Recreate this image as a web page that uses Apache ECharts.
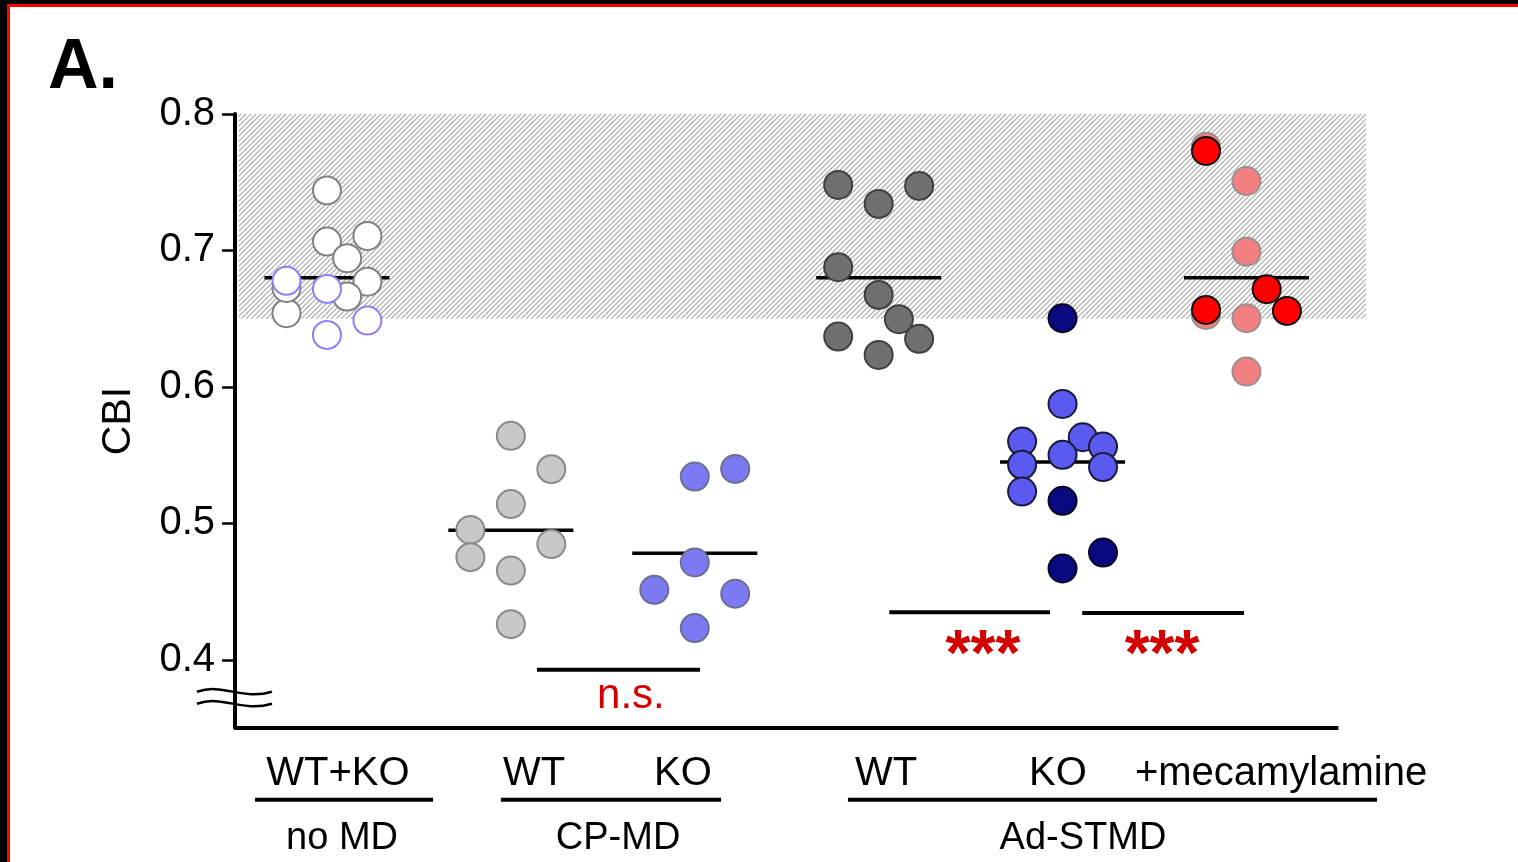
<!DOCTYPE html>
<html><head><meta charset="utf-8">
<script src="https://cdn.jsdelivr.net/npm/echarts@6/dist/echarts.min.js"></script>
<style>
html,body{margin:0;padding:0;background:#fff;overflow:hidden}
#c{position:absolute;left:0;top:0;width:1518px;height:862px;background:#fff}
.f{position:absolute;z-index:5}
</style>
</head><body>
<div id="c"></div>
<div class="f" style="left:0;top:0;width:1518px;height:4px;background:#000"></div>
<div class="f" style="left:0;top:4px;width:1518px;height:3px;background:#f00"></div>
<div class="f" style="left:0;top:0;width:7px;height:862px;background:#000"></div>
<div class="f" style="left:7px;top:4px;width:3px;height:858px;background:#f00"></div>
<script>
// ---------- data ----------
const groupCenters = [0.5, 1.5, 2.5, 3.5, 4.5, 5.5];
const groupMeans   = [0.68, 0.495, 0.478, 0.68, 0.545, 0.68];
const yTicks = [0.4, 0.5, 0.6, 0.7, 0.8];

const noMdWtOff = [0, 0, 0.22, 0.11, 0.22, 0.11, -0.22, -0.22];
const noMdWtVal = [0.744, 0.7065, 0.7106, 0.6943, 0.6771, 0.6662, 0.654, 0.6725];
const noMdKoOff = [-0.22, 0, 0.22, 0];
const noMdKoVal = [0.6777, 0.6718, 0.6486, 0.6381];

const cpWtOff = [0, 0.22, 0, -0.22, -0.22, 0.22, 0, 0];
const cpWtVal = [0.5641, 0.5397, 0.5141, 0.4952, 0.4752, 0.4848, 0.4654, 0.4261];
const cpKoOff = [0, 0.22, 0, -0.22, 0.22, 0];
const cpKoVal = [0.5343, 0.5399, 0.4713, 0.4513, 0.4484, 0.4232];

const adWtOff = [-0.22, 0.22, 0, -0.22, 0, 0.11, -0.22, 0.22, 0];
const adWtVal = [0.748, 0.7473, 0.7341, 0.6877, 0.6674, 0.6496, 0.6369, 0.6352, 0.6234];
const adKoOff = [0, -0.22, 0.11, 0, 0.22, -0.22, 0.22, -0.22];
const adKoVal = [0.5875, 0.5599, 0.5631, 0.5502, 0.5563, 0.5429, 0.5412, 0.5233];
const adKoDarkOff = [0, 0, 0.22, 0];
const adKoDarkVal = [0.6503, 0.5165, 0.4786, 0.4669];

const mecaPinkOff = [-0.22, 0, 0, -0.22, 0, 0];
const mecaPinkVal = [0.776, 0.7509, 0.6991, 0.6527, 0.6503, 0.6112];
const mecaRedOff = [-0.22, 0.11, -0.22, 0.22];
const mecaRedVal = [0.7729, 0.6716, 0.6564, 0.6557];

const normalBand = [0.65, 0.8];

const sigLines = [[1.642, 2.529, 0.3927], [3.558, 4.432, 0.4349], [4.607, 5.487, 0.4342]];
const sigTexts = ['n.s.', '***', '***'];
const sigTextX = [2.153, 4.067, 5.041];
const sigTextY = [0.3735, 0.4015, 0.4015];

const subLabels = ['WT+KO', 'WT', 'KO', 'WT', 'KO', '+mecamylamine'];
const subLabelX = [0.56, 1.626, 2.436, 3.54, 4.475, 5.688];
const groupLabels = ['no MD', 'CP-MD', 'Ad-STMD'];
const groupLabelX = [0.582, 2.083, 4.611];
const groupSpans = [[0.109, 1.077], [1.446, 2.643], [3.333, 6.21]];

// ---------- build ----------
const FONT = '"Liberation Sans", Arial, Helvetica, sans-serif';
const X_MAX = 6.15, Y_MIN = 0.35, Y_MAX = 0.8;
const SUB_Y = 0.3165, SPAN_Y = 0.2974, GROUP_Y = 0.2689;

function pts(ci, off, val) { return off.map((o, i) => [groupCenters[ci] + o, val[i]]); }

function hatch() {
  const c = document.createElement('canvas'); c.width = 5; c.height = 5;
  const g = c.getContext('2d');
  g.fillStyle = '#ffffff'; g.fillRect(0, 0, 5, 5);
  g.strokeStyle = '#a8a8a8'; g.lineWidth = 1.2;
  g.beginPath();
  g.moveTo(-1, 6); g.lineTo(6, -1);
  g.moveTo(-1, 1); g.lineTo(1, -1);
  g.moveTo(4, 6); g.lineTo(6, 4);
  g.stroke();
  return c;
}

function scatter(name, data, fill, stroke, bw) {
  return {
    name, type: 'scatter', data, symbol: 'circle', symbolSize: 28, z: 5,
    itemStyle: { color: fill, borderColor: stroke, borderWidth: bw || 2, opacity: 1 },
    emphasis: { disabled: true }, silent: true
  };
}

// segments: [x1, x2, y, width]
const segs = [];
groupCenters.forEach((c, i) => segs.push([c - 0.34, c + 0.34, groupMeans[i], 3.5]));
sigLines.forEach(s => segs.push([s[0], s[1], s[2], 4]));
groupSpans.forEach(s => segs.push([s[0], s[1], SPAN_Y, 4]));
segs.push([0, 6, Y_MIN, 4]); // x axis baseline

const segSeries = {
  type: 'custom', z: 3, clip: false, silent: true,
  data: segs,
  renderItem(params, api) {
    const p1 = api.coord([api.value(0), api.value(2)]);
    const p2 = api.coord([api.value(1), api.value(2)]);
    return { type: 'line', shape: { x1: p1[0], y1: p1[1], x2: p2[0], y2: p2[1] },
      style: { stroke: '#000', lineWidth: api.value(3), lineCap: 'butt' } };
  }
};

// texts: [x, y, kind, index]
const texts = [];
subLabels.forEach((t, i) => texts.push([subLabelX[i], SUB_Y, 0, i]));
groupLabels.forEach((t, i) => texts.push([groupLabelX[i], GROUP_Y, 1, i]));
sigTexts.forEach((t, i) => texts.push([sigTextX[i], sigTextY[i], 2, i]));

const textSeries = {
  type: 'custom', z: 6, clip: false, silent: true,
  data: texts,
  renderItem(params, api) {
    const p = api.coord([api.value(0), api.value(1)]);
    const kind = api.value(2), idx = api.value(3);
    let text, font, fill = '#000';
    if (kind === 0) { text = subLabels[idx]; font = '40px ' + FONT; }
    else if (kind === 1) { text = groupLabels[idx]; font = '38px ' + FONT; }
    else {
      text = sigTexts[idx]; fill = '#d40000';
      font = idx === 0 ? '42px ' + FONT : 'bold 64px ' + FONT;
    }
    return { type: 'text', x: p[0], y: p[1],
      style: { text, font, fill, align: 'center', verticalAlign: 'middle' } };
  }
};

// axis break squiggles
const breaks = [[-0.207, 0.201, 0.3766], [-0.207, 0.201, 0.3678]];
const breakSeries = {
  type: 'custom', z: 7, clip: false, silent: true, data: breaks,
  renderItem(params, api) {
    const a = api.coord([api.value(0), api.value(2)]);
    const b = api.coord([api.value(1), api.value(2)]);
    const w = b[0] - a[0];
    return { type: 'bezierCurve',
      shape: { x1: a[0], y1: a[1], cpx1: a[0] + w * 0.35, cpy1: a[1] - 9, cpx2: a[0] + w * 0.6, cpy2: a[1] + 9, x2: b[0], y2: b[1] },
      style: { stroke: '#000', lineWidth: 2.5, fill: null } };
  }
};

const bandSeries = {
  type: 'scatter', data: [], z: 1, silent: true,
  markArea: {
    silent: true,
    itemStyle: { color: { image: hatch(), repeat: 'repeat' }, opacity: 1 },
    data: [[{ coord: [0.02, normalBand[0]] }, { coord: [X_MAX, normalBand[1]] }]]
  }
};

const chart = echarts.init(document.getElementById('c'), null, { renderer: 'canvas' });
chart.setOption({
  animation: false,
  backgroundColor: '#fff',
  grid: { left: 235, right: 1518 - 1366, top: 114, bottom: 862 - 728, containLabel: false },
  xAxis: { type: 'value', min: 0, max: X_MAX, show: false },
  yAxis: {
    type: 'value', min: Y_MIN, max: Y_MAX,
    name: 'CBI', nameLocation: 'middle', nameGap: 96,
    nameTextStyle: { fontSize: 41, color: '#000', fontFamily: FONT },
    axisLine: { show: true, lineStyle: { color: '#000', width: 4 } },
    axisTick: { show: true, length: 13, lineStyle: { color: '#000', width: 2.5 }, customValues: yTicks },
    axisLabel: { fontSize: 40, color: '#000', fontFamily: FONT, margin: 20, customValues: yTicks,
      formatter: v => Number(v).toFixed(1) },
    splitLine: { show: false }
  },
  graphic: [{ type: 'text', left: 48, top: 34, style: { text: 'A.', font: 'bold 70px ' + FONT, fill: '#000' } }],
  series: [
    bandSeries,
    segSeries,
    scatter('noMD WT', pts(0, noMdWtOff, noMdWtVal), '#ffffff', '#808080'),
    scatter('noMD KO', pts(0, noMdKoOff, noMdKoVal), '#ffffff', '#8c80f2'),
    scatter('CP WT', pts(1, cpWtOff, cpWtVal), '#c8c8c8', '#8a8a8a'),
    scatter('CP KO', pts(2, cpKoOff, cpKoVal), '#7b7af2', '#6e6e90'),
    scatter('Ad WT', pts(3, adWtOff, adWtVal), '#707070', '#404040'),
    scatter('Ad KO', pts(4, adKoOff, adKoVal), '#5a5af0', '#1a1a3a'),
    scatter('Ad KO dark', pts(4, adKoDarkOff, adKoDarkVal), '#0a0a80', '#050520'),
    scatter('meca pink', pts(5, mecaPinkOff, mecaPinkVal), '#f28080', '#999090'),
    scatter('meca red', pts(5, mecaRedOff, mecaRedVal), '#ff0000', '#111111'),
    textSeries,
    breakSeries
  ]
});
</script>
</body></html>
